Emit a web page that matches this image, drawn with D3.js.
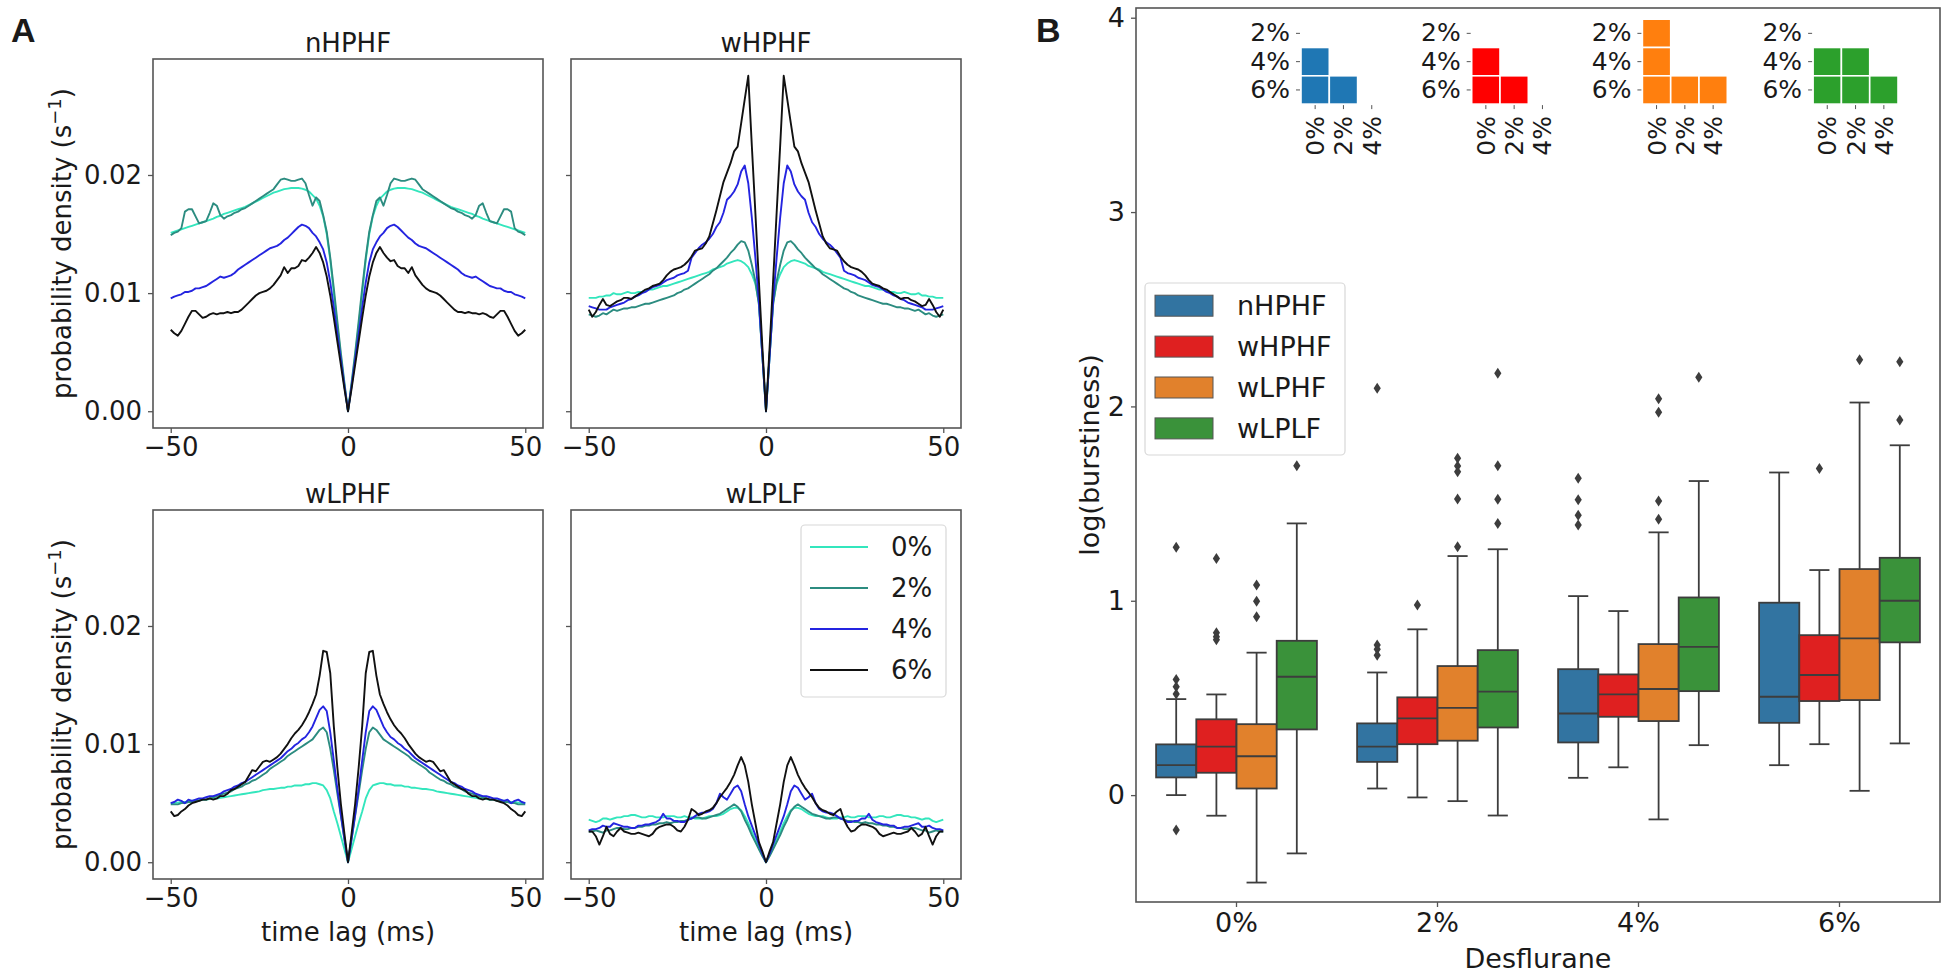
<!DOCTYPE html>
<html><head><meta charset="utf-8">
<script src="https://cdn.jsdelivr.net/npm/d3@7"></script>
<style>
body{margin:0;background:#fff;}
svg text{font-family:"DejaVu Sans",sans-serif;fill:#1a1a1a;}
</style></head><body>
<svg id="fig" width="1950" height="977"></svg>
<script>
// ---------------- DATA ----------------
// Panel A: autocorrelograms, probability density in units of 1e-3 s^-1, for lags 0..50 ms
// (the correlograms are symmetric, negative lags mirror the positive ones)
const lags = [0,1,2,3,4,5,6,7,8,9,10,11,12,13,14,15,16,17,18,19,20,21,22,23,24,25,26,27,28,29,30,31,32,33,34,35,36,37,38,39,40,41,42,43,44,45,46,47,48,49,50];
const levels = ["0%","2%","4%","6%"];
const levelColors = ["#33e6bd","#2c8c80","#2424e0","#111111"];
const panelNames = ["nHPHF","wHPHF","wLPHF","wLPLF"];
const yTicksA = [0,10,20];
const yTickLabelsA = ["0.00","0.01","0.02"];
const xTicksA = [-50,0,50];
const xTickLabelsA = ["\u221250","0","50"];

const nHPHF_0 = [0,2.2,4.6,7.2,10.0,12.8,15.0,16.5,17.4,18.0,18.3,18.6,18.75,18.85,18.9,18.9,18.9,18.85,18.8,18.7,18.6,18.5,18.35,18.2,18.05,17.9,17.75,17.6,17.45,17.3,17.2,17.1,17.0,16.9,16.8,16.7,16.55,16.45,16.3,16.2,16.1,16.0,15.9,15.8,15.7,15.6,15.5,15.4,15.3,15.2,15.1];
const nHPHF_2 = [0,2.4,4.9,7.6,10.4,13.0,15.2,16.6,17.8,18.1,17.4,18.3,19.3,19.7,19.6,19.5,19.5,19.6,19.7,19.6,19.2,18.8,18.6,18.4,18.2,18.0,17.8,17.6,17.4,17.2,17.1,16.9,16.8,16.6,16.5,16.3,16.6,17.4,17.6,16.8,16.1,16.0,15.9,16.5,17.1,17.1,16.9,15.5,15.2,15.1,14.9];
const nHPHF_4 = [0,2.1,4.3,6.5,8.8,10.9,12.6,13.7,14.3,14.8,15.1,15.5,15.7,15.8,15.6,15.3,15.0,14.7,14.5,14.2,14.0,13.9,13.8,13.6,13.4,13.2,13.0,12.8,12.6,12.4,12.2,12.0,11.7,11.5,11.4,11.3,11.4,11.2,11.0,10.8,10.6,10.5,10.4,10.4,10.2,10.1,10.1,9.9,9.8,9.7,9.55];
const nHPHF_6 = [0,1.9,3.9,5.9,7.9,9.8,11.4,12.6,13.4,13.9,13.4,13.0,12.7,12.8,12.3,12.1,12.1,11.7,12.2,11.5,11.1,10.7,10.4,10.2,10.1,10.0,9.8,9.5,9.2,8.9,8.6,8.4,8.4,8.3,8.4,8.3,8.3,8.2,8.3,8.2,8.0,7.9,8.2,8.5,8.5,8.0,7.4,6.8,6.4,6.6,6.9];

const wHPHF_0 = [0,4.6,9.2,10.8,11.6,12.2,12.5,12.7,12.8,12.7,12.6,12.5,12.3,12.2,12.1,12.0,11.8,11.7,11.6,11.5,11.4,11.3,11.2,11.1,11.0,10.9,10.8,10.7,10.6,10.6,10.5,10.4,10.3,10.3,10.2,10.1,10.1,10.0,10.0,10.1,10.0,9.9,9.9,10.0,9.8,9.8,9.7,9.7,9.6,9.6,9.6];
const wHPHF_2 = [0,4.6,9.0,11.0,12.4,13.6,14.3,14.4,14.1,13.7,13.4,13.0,12.7,12.4,12.1,11.9,11.6,11.4,11.2,11.0,10.8,10.6,10.4,10.3,10.1,10.0,9.8,9.7,9.6,9.5,9.4,9.3,9.2,9.1,9.1,9.0,8.9,8.8,8.8,8.7,8.7,8.6,8.5,8.6,8.4,8.2,8.3,8.1,8.0,8.1,8.2];
const wHPHF_4 = [0,4.6,9.3,13.0,16.4,19.3,20.8,20.3,19.2,18.6,18.2,17.9,16.8,16.0,15.6,15.0,14.6,14.3,14.1,13.8,13.4,13.0,11.9,11.7,11.6,11.5,11.3,11.2,11.1,10.9,10.7,10.6,10.5,10.3,10.1,10.0,9.8,9.7,9.5,9.4,9.2,9.1,9.0,8.9,8.8,8.6,8.6,8.6,8.7,8.8,8.9];
const wHPHF_6 = [0,5.3,11.0,16.8,22.5,28.4,26.4,24.4,22.4,22.0,21.0,20.2,19.4,18.2,17.0,15.9,14.8,14.2,13.8,13.7,13.6,13.1,12.7,12.4,12.2,12.1,12.0,11.8,11.5,11.1,10.8,10.7,10.6,10.4,10.3,10.1,9.9,9.7,9.5,9.6,9.6,9.4,9.3,9.1,8.9,9.0,9.5,9.0,8.4,8.0,8.6];

const wLPHF_0 = [0,1.1,2.2,3.3,4.3,5.4,6.1,6.5,6.6,6.7,6.7,6.6,6.6,6.5,6.5,6.5,6.4,6.4,6.3,6.3,6.25,6.2,6.2,6.15,6.1,6.0,5.95,5.9,5.85,5.8,5.75,5.7,5.65,5.6,5.55,5.5,5.45,5.4,5.4,5.35,5.3,5.3,5.25,5.2,5.2,5.15,5.1,5.1,5.05,5.0,5.0];
const wLPHF_2 = [0,1.9,3.9,5.8,7.8,9.6,11.0,11.4,11.2,10.8,10.4,10.2,10.0,9.8,9.6,9.4,9.2,9.0,8.7,8.5,8.3,8.1,7.9,7.6,7.4,7.2,7.0,6.9,6.7,6.6,6.4,6.3,6.2,6.0,5.9,5.8,5.7,5.6,5.5,5.4,5.3,5.3,5.2,5.2,5.1,5.1,5.0,5.0,4.9,4.9,4.9];
const wLPHF_4 = [0,2.0,4.0,6.2,8.6,11.0,12.8,13.2,12.9,12.2,11.5,11.0,10.6,10.4,10.1,9.9,9.6,9.4,9.1,8.8,8.6,8.4,8.2,8.0,7.8,7.6,7.4,7.2,7.0,6.8,6.7,6.5,6.4,6.2,6.1,6.0,5.8,5.7,5.6,5.6,5.5,5.4,5.4,5.3,5.2,5.3,5.0,5.2,5.3,5.1,5.0];
const wLPHF_6 = [0,2.4,4.9,8.0,11.5,16.0,17.8,17.9,15.8,14.2,13.4,12.7,12.1,11.6,11.2,10.9,10.5,10.0,9.6,9.2,8.9,8.7,8.5,8.6,8.5,8.1,7.7,7.8,7.3,6.8,6.6,6.4,6.2,6.1,5.8,5.6,5.6,5.4,5.3,5.4,5.3,5.3,5.2,5.1,5.0,4.8,4.5,4.3,4.0,3.9,4.3];

const wLPLF_0 = [0,0.6,1.2,1.9,2.6,3.3,3.9,4.4,4.6,4.6,4.5,4.3,4.1,4.0,3.9,3.9,3.9,3.8,3.7,3.7,3.7,3.8,3.8,3.9,3.8,3.8,3.9,3.9,3.9,3.8,3.8,3.8,3.9,3.9,3.8,3.8,3.9,4.0,4.0,3.9,3.9,3.8,3.8,3.7,3.6,3.7,3.7,3.5,3.4,3.5,3.6];
const wLPLF_2 = [0,0.5,1.1,1.7,2.3,3.0,3.6,4.3,4.7,4.9,4.7,4.5,4.3,4.1,4.0,3.9,3.8,3.7,3.7,3.8,3.8,3.7,3.6,3.5,3.5,3.4,3.4,3.3,3.4,3.3,3.3,3.2,3.2,3.1,3.1,3.0,3.0,2.9,2.9,2.8,2.8,2.9,2.9,2.8,2.7,2.7,2.5,2.6,2.7,2.6,2.6];
const wLPLF_4 = [0,0.7,1.5,2.3,3.1,3.9,4.9,6.0,6.5,6.3,5.8,5.3,5.5,5.8,5.0,4.5,4.3,4.2,4.2,4.1,3.9,3.7,3.6,3.4,3.4,3.5,3.5,3.7,3.7,4.1,3.6,3.4,3.3,3.2,3.2,3.1,3.1,2.9,2.9,3.0,3.0,3.1,3.2,3.3,3.0,3.0,3.1,2.9,2.8,2.8,2.7];
const wLPLF_6 = [0,0.9,1.7,3.3,4.9,6.8,8.2,8.9,8.2,7.4,6.8,6.3,5.9,5.5,5.0,4.6,4.4,4.3,4.1,4.0,4.3,4.5,3.6,3.0,2.6,2.7,3.0,3.2,3.2,3.1,3.0,2.8,2.4,2.2,2.3,2.4,2.5,2.4,2.4,2.5,2.6,2.9,2.6,2.2,2.4,3.0,2.2,1.5,2.2,2.6,2.6];

// Panel B: box statistics [whisker low, Q1, median, Q3, whisker high] per Desflurane level
const categoriesB = ["0%","2%","4%","6%"];
const groupsB = ["nHPHF","wHPHF","wLPHF","wLPLF"];
const boxColors = ["#3274a1","#df2020","#e1812c","#3a923a"];
const yTicksB = [0,1,2,3,4];
const nHPHF_box = [[0.0,0.091,0.154,0.261,0.494],[0.034,0.171,0.249,0.369,0.631],[0.089,0.271,0.42,0.648,1.024],[0.154,0.372,0.506,0.99,1.66]];
const wHPHF_box = [[-0.106,0.115,0.249,0.39,0.518],[-0.012,0.262,0.395,0.503,0.853],[0.143,0.403,0.518,0.621,0.947],[0.262,0.484,0.618,0.823,1.158]];
const wLPHF_box = [[-0.45,0.034,0.2,0.365,0.733],[-0.031,0.28,0.449,0.664,1.23],[-0.125,0.381,0.546,0.777,1.352],[0.022,0.489,0.806,1.163,2.02]];
const wLPLF_box = [[-0.30,0.338,0.609,0.794,1.398],[-0.105,0.348,0.532,0.746,1.265],[0.257,0.535,0.763,1.017,1.616],[0.266,0.786,1.0,1.221,1.80]];
const nHPHF_out = [[1.275,0.595,0.557,0.52,-0.18],[2.093,0.772,0.75,0.72],[1.63,1.52,1.44,1.39],[]];
const wHPHF_out = [[1.218,0.835,0.815,0.8],[0.978],[],[1.68]];
const wLPHF_out = [[1.081,0.998,0.918],[1.278,1.523,1.664,1.693,1.733],[1.419,1.513,1.97,2.04],[2.24]];
const wLPLF_out = [[1.695],[1.398,1.522,1.695,2.17],[2.15],[2.23,1.93]];

// Panel B insets: significant pairwise differences [row level, column level]
const insetRows = ["2%","4%","6%"];
const insetCols = ["0%","2%","4%"];
const insetColors = ["#1f77b4","#ff0000","#ff7f0e","#2ca02c"];
const sig_nHPHF = [["4%","0%"],["6%","0%"],["6%","2%"]];
const sig_wHPHF = [["4%","0%"],["6%","0%"],["6%","2%"]];
const sig_wLPHF = [["2%","0%"],["4%","0%"],["6%","0%"],["6%","2%"],["6%","4%"]];
const sig_wLPLF = [["4%","0%"],["4%","2%"],["6%","0%"],["6%","2%"],["6%","4%"]];

// ---------------- DRAW ----------------
const svg = d3.select("#fig");
const INK = "#1a1a1a", SPINE = "#555";
const FA = 26, FB = 27;

svg.append("text").attr("x",11).attr("y",42).style("font-family","'Liberation Sans',Arial,sans-serif")
  .attr("font-weight","bold").attr("font-size",34).text("A");
svg.append("text").attr("x",1036).attr("y",42).style("font-family","'Liberation Sans',Arial,sans-serif")
  .attr("font-weight","bold").attr("font-size",34).text("B");

const seriesA = {
  nHPHF:[nHPHF_0,nHPHF_2,nHPHF_4,nHPHF_6],
  wHPHF:[wHPHF_0,wHPHF_2,wHPHF_4,wHPHF_6],
  wLPHF:[wLPHF_0,wLPHF_2,wLPHF_4,wLPHF_6],
  wLPLF:[wLPLF_0,wLPLF_2,wLPLF_4,wLPLF_6]
};
const layoutA = [
  {x0:153,x1:543,y0:59,y1:428,left:true,bottom:false},
  {x0:571,x1:961,y0:59,y1:428,left:false,bottom:false},
  {x0:153,x1:543,y0:510,y1:879,left:true,bottom:true},
  {x0:571,x1:961,y0:510,y1:879,left:false,bottom:true}
];

function mirror(vals){
  const pts=[];
  for(let i=lags.length-1;i>=1;i--) pts.push([-lags[i],vals[i]]);
  for(let i=0;i<lags.length;i++) pts.push([lags[i],vals[i]]);
  return pts;
}

panelNames.forEach((name,pi)=>{
  const L = layoutA[pi];
  const x = d3.scaleLinear().domain([-55,55]).range([L.x0,L.x1]);
  const y = d3.scaleLinear().domain([-1.42,29.82]).range([L.y1,L.y0]);
  const g = svg.append("g");
  const line = d3.line().x(d=>x(d[0])).y(d=>y(d[1]));
  seriesA[name].forEach((vals,si)=>{
    g.append("path").attr("d",line(mirror(vals))).attr("fill","none")
      .attr("stroke",levelColors[si]).attr("stroke-width",1.9).attr("stroke-linejoin","round");
  });
  g.append("rect").attr("x",L.x0).attr("y",L.y0).attr("width",L.x1-L.x0).attr("height",L.y1-L.y0)
    .attr("fill","none").attr("stroke",SPINE).attr("stroke-width",1.6);
  const ya = g.append("g").attr("transform",`translate(${L.x0},0)`)
    .call(d3.axisLeft(y).tickValues(yTicksA).tickSize(5).tickPadding(6)
      .tickFormat((d,i)=> L.left ? yTickLabelsA[i] : ""));
  ya.select(".domain").remove();
  ya.selectAll("line").attr("stroke",SPINE).attr("stroke-width",1.3);
  ya.selectAll("text").attr("font-size",FA).attr("fill",INK).style("font-family","'DejaVu Sans'");
  const xa = g.append("g").attr("transform",`translate(0,${L.y1})`)
    .call(d3.axisBottom(x).tickValues(xTicksA).tickSize(5).tickPadding(5)
      .tickFormat((d,i)=>xTickLabelsA[i]));
  xa.select(".domain").remove();
  xa.selectAll("line").attr("stroke",SPINE).attr("stroke-width",1.3);
  xa.selectAll("text").attr("font-size",FA).attr("fill",INK).style("font-family","'DejaVu Sans'");
  g.append("text").attr("x",(L.x0+L.x1)/2).attr("y",L.y0-7).attr("text-anchor","middle")
    .attr("font-size",FA).text(name);
  if(L.left){
    const t = g.append("text").attr("transform",`translate(71,${(L.y0+L.y1)/2}) rotate(-90)`)
      .attr("text-anchor","middle").attr("font-size",FA);
    t.append("tspan").text("probability density (s");
    t.append("tspan").text("\u22121").attr("font-size",18).attr("dy",-10);
    t.append("tspan").text(")").attr("font-size",FA).attr("dy",10);
  }
  if(L.bottom){
    g.append("text").attr("x",(L.x0+L.x1)/2).attr("y",L.y1+62).attr("text-anchor","middle")
      .attr("font-size",FA).text("time lag (ms)");
  }
  if(pi===3){
    const lg = g.append("g");
    lg.append("rect").attr("x",801).attr("y",525).attr("width",145).attr("height",172)
      .attr("rx",4).attr("fill","#fff").attr("fill-opacity",0.8).attr("stroke","#d8d8d8").attr("stroke-width",1.2);
    levels.forEach((lv,i)=>{
      const cy = 547 + i*41;
      lg.append("line").attr("x1",810).attr("x2",868).attr("y1",cy).attr("y2",cy)
        .attr("stroke",levelColors[i]).attr("stroke-width",1.9);
      lg.append("text").attr("x",891).attr("y",cy).attr("dy","0.36em").attr("font-size",FA).text(lv);
    });
  }
});

// ---------------- PANEL B ----------------
const BX0=1136, BX1=1940, BY0=8, BY1=902;
const xb = d3.scaleBand().domain(categoriesB).range([BX0,BX1]).padding(0);
const yb = d3.scaleLinear().domain([-0.55,4.05]).range([BY1,BY0]);
const hueBand = d3.scaleBand().domain(groupsB).range([0.1*xb.bandwidth(),0.9*xb.bandwidth()]).padding(0);
const boxStats = [nHPHF_box,wHPHF_box,wLPHF_box,wLPLF_box];
const outStats = [nHPHF_out,wHPHF_out,wLPHF_out,wLPLF_out];
const BOXEDGE = "#3d3d3d";
const gb = svg.append("g");

categoriesB.forEach((cat,ci)=>{
  groupsB.forEach((grp,gi)=>{
    const s = boxStats[gi][ci];
    const bx = xb(cat)+hueBand(grp), bw = hueBand.bandwidth();
    const cx = bx + bw/2;
    const g = gb.append("g");
    g.append("line").attr("x1",cx).attr("x2",cx).attr("y1",yb(s[3])).attr("y2",yb(s[4]))
      .attr("stroke",BOXEDGE).attr("stroke-width",1.8);
    g.append("line").attr("x1",cx).attr("x2",cx).attr("y1",yb(s[1])).attr("y2",yb(s[0]))
      .attr("stroke",BOXEDGE).attr("stroke-width",1.8);
    [s[0],s[4]].forEach(v=>{
      g.append("line").attr("x1",cx-bw/4).attr("x2",cx+bw/4).attr("y1",yb(v)).attr("y2",yb(v))
        .attr("stroke",BOXEDGE).attr("stroke-width",1.8);
    });
    g.append("rect").attr("x",bx).attr("y",yb(s[3])).attr("width",bw).attr("height",yb(s[1])-yb(s[3]))
      .attr("fill",boxColors[gi]).attr("stroke",BOXEDGE).attr("stroke-width",1.8);
    g.append("line").attr("x1",bx).attr("x2",bx+bw).attr("y1",yb(s[2])).attr("y2",yb(s[2]))
      .attr("stroke",BOXEDGE).attr("stroke-width",1.8);
    outStats[gi][ci].forEach(v=>{
      g.append("path").attr("d","M0,-5.5L3.6,0L0,5.5L-3.6,0Z")
        .attr("transform",`translate(${cx},${yb(v)})`).attr("fill",BOXEDGE);
    });
  });
});

gb.append("rect").attr("x",BX0).attr("y",BY0).attr("width",BX1-BX0).attr("height",BY1-BY0)
  .attr("fill","none").attr("stroke",SPINE).attr("stroke-width",1.6);
const yaB = gb.append("g").attr("transform",`translate(${BX0},0)`)
  .call(d3.axisLeft(yb).tickValues(yTicksB).tickSize(5).tickPadding(6).tickFormat(d3.format("d")));
yaB.select(".domain").remove();
yaB.selectAll("line").attr("stroke",SPINE).attr("stroke-width",1.3);
yaB.selectAll("text").attr("font-size",FB).attr("fill",INK).style("font-family","'DejaVu Sans'");
const xaB = gb.append("g").attr("transform",`translate(0,${BY1})`)
  .call(d3.axisBottom(xb).tickSize(5).tickPadding(6));
xaB.select(".domain").remove();
xaB.selectAll("line").attr("stroke",SPINE).attr("stroke-width",1.3);
xaB.selectAll("text").attr("font-size",FB).attr("fill",INK).style("font-family","'DejaVu Sans'");
gb.append("text").attr("x",(BX0+BX1)/2).attr("y",968).attr("text-anchor","middle").attr("font-size",FB).text("Desflurane");
gb.append("text").attr("transform",`translate(1099,${(BY0+BY1)/2}) rotate(-90)`).attr("text-anchor","middle")
  .attr("font-size",FB).text("log(burstiness)");

const lgB = gb.append("g");
lgB.append("rect").attr("x",1145).attr("y",283).attr("width",200).attr("height",172).attr("rx",4)
  .attr("fill","#fff").attr("fill-opacity",0.8).attr("stroke","#d8d8d8").attr("stroke-width",1.2);
groupsB.forEach((grp,i)=>{
  const cy = 305.7 + i*40.9;
  lgB.append("rect").attr("x",1155).attr("y",cy-10.5).attr("width",58).attr("height",21)
    .attr("fill",boxColors[i]).attr("stroke","#555").attr("stroke-width",1);
  lgB.append("text").attr("x",1237).attr("y",cy).attr("dy","0.36em").attr("font-size",FB).text(grp);
});

const sigs = [sig_nHPHF,sig_wHPHF,sig_wLPHF,sig_wLPLF];
sigs.forEach((sig,i)=>{
  const ix0 = 1301 + i*170.7, iy0 = 19.2, cs = 28.3;
  const xc = d3.scaleBand().domain(insetCols).range([ix0, ix0+3*cs]);
  const yr = d3.scaleBand().domain(insetRows).range([iy0, iy0+3*cs]);
  const g = gb.append("g");
  sig.forEach(([r,c])=>{
    g.append("rect").attr("x",xc(c)).attr("y",yr(r)).attr("width",xc.bandwidth()).attr("height",yr.bandwidth())
      .attr("fill",insetColors[i]).attr("stroke","#fff").attr("stroke-width",1.6);
  });
  const ya = g.append("g").attr("transform",`translate(${ix0-1},0)`)
    .call(d3.axisLeft(yr).tickSize(4).tickPadding(6));
  ya.select(".domain").remove();
  ya.selectAll("line").attr("stroke","#555").attr("stroke-width",1);
  ya.selectAll("text").attr("font-size",25).attr("fill",INK).style("font-family","'DejaVu Sans'");
  const xa = g.append("g").attr("transform",`translate(0,${iy0+3*cs+1})`)
    .call(d3.axisBottom(xc).tickSize(4).tickPadding(6));
  xa.select(".domain").remove();
  xa.selectAll("line").attr("stroke","#555").attr("stroke-width",1);
  xa.selectAll("text").attr("font-size",25).attr("fill",INK).style("font-family","'DejaVu Sans'")
    .attr("text-anchor","end").attr("dy","0.36em").attr("transform","translate(0,9) rotate(-90)").attr("y",0).attr("x",-2);
});
</script>
</body></html>
